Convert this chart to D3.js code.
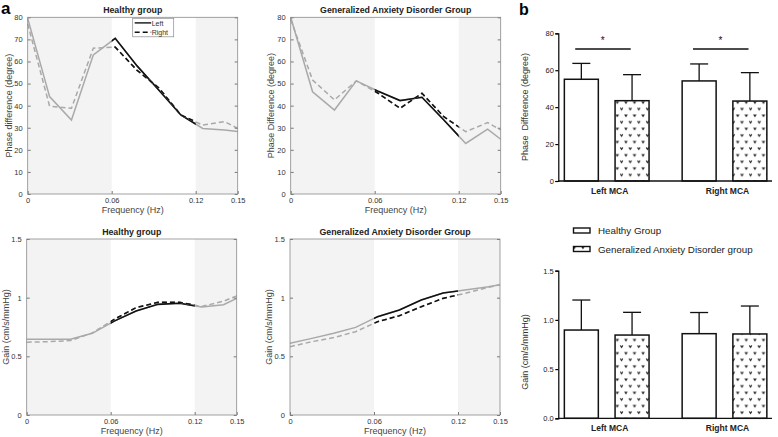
<!DOCTYPE html>
<html>
<head>
<meta charset="utf-8">
<script src="https://cdn.jsdelivr.net/npm/d3@7"></script>
<style>
  body { margin: 0; background: #fff; }
  svg { display: block; font-family: "Liberation Sans", Arial, sans-serif; }
</style>
</head>
<body>
<svg id="chart" width="778" height="437"></svg>
<script>
// frequency bins (Hz)
var freq = [0, 0.015625, 0.03125, 0.046875, 0.0625, 0.078125, 0.09375, 0.109375, 0.125, 0.140625, 0.15];
var freqTicks = [0, 0.06, 0.12, 0.15];

// phase difference (degree)
var hcPhaseLeft   = [79.5, 44.1, 33.5, 63.0, 70.5, 58.0, 47.0, 35.8, 29.7, 29.0, 28.3];
var hcPhaseRight  = [77.0, 39.8, 38.8, 66.0, 66.5, 56.0, 48.0, 35.8, 31.2, 32.8, 29.7];
var gadPhaseLeft  = [80.0, 46.3, 38.0, 51.2, 46.5, 42.3, 43.8, 33.5, 22.9, 29.4, 24.8];
var gadPhaseRight = [79.0, 51.6, 42.6, 51.2, 45.6, 38.8, 45.6, 35.0, 28.2, 32.3, 29.0];
var phaseTicks = [0, 10, 20, 30, 40, 50, 60, 70, 80];

// gain (cm/s/mmHg)
var hcGainLeft   = [0.645, 0.645, 0.645, 0.696, 0.800, 0.886, 0.943, 0.952, 0.920, 0.940, 0.994];
var hcGainRight  = [0.620, 0.625, 0.634, 0.700, 0.815, 0.915, 0.960, 0.960, 0.925, 0.970, 1.015];
var gadGainLeft  = [0.611, 0.653, 0.696, 0.747, 0.838, 0.895, 0.980, 1.040, 1.065, 1.090, 1.110];
var gadGainRight = [0.582, 0.625, 0.660, 0.710, 0.795, 0.846, 0.923, 0.994, 1.037, 1.085, 1.110];
var gainTicks = [0, 0.5, 1, 1.5];

// bar chart (panel b)
var arteries = ["Left MCA", "Right MCA"];
var groups = ["Healthy Group", "Generalized Anxiety Disorder group"];
var barPhaseMean = [[55.1, 43.5], [54.2, 43.3]];
var barPhaseSD   = [[8.6, 14.1], [9.2, 15.4]];
var barGainMean  = [[0.897, 0.846], [0.860, 0.857]];
var barGainSD    = [[0.305, 0.231], [0.215, 0.284]];
var barPhaseTicks = [0, 20, 40, 60, 80];
var barGainTicks  = [0, 0.5, 1.0, 1.5];

var svg = d3.select("#chart");
var defs = svg.append("defs");

// "v" pattern for the anxiety group bars
var pat = defs.append("pattern").attr("id", "vpat")
    .attr("patternUnits", "userSpaceOnUse")
    .attr("width", 8.6).attr("height", 13.2);
pat.append("rect").attr("width", 8.6).attr("height", 13.2).attr("fill", "#fff");
pat.append("path").attr("d", "M1.2,2.2 L2.4,4.2 L3.6,2.2 M5.5,8.8 L6.7,10.8 L7.9,8.8")
    .attr("fill", "none").attr("stroke", "#222").attr("stroke-width", 1.1);

function linePanel(p) {
    var x = d3.scaleLinear().domain([0, 0.15]).range([p.x0, p.x1]);
    var y = d3.scaleLinear().domain([0, p.ymax]).range([p.y1, p.y0]);
    var g = svg.append("g");

    // shaded low / high frequency bands
    g.append("rect").attr("x", x(0)).attr("y", p.y0)
        .attr("width", x(0.06) - x(0)).attr("height", p.y1 - p.y0).attr("fill", "#f3f3f3");
    g.append("rect").attr("x", x(0.12)).attr("y", p.y0)
        .attr("width", x(0.15) - x(0.12)).attr("height", p.y1 - p.y0).attr("fill", "#f3f3f3");

    var clipId = "clip_" + p.id;
    defs.append("clipPath").attr("id", clipId).append("rect")
        .attr("x", x(0.06)).attr("y", p.y0 - 5)
        .attr("width", x(0.12) - x(0.06)).attr("height", p.y1 - p.y0 + 10);

    var line = d3.line().x(function(d, i) { return x(freq[i]); }).y(function(d) { return y(d); });

    [[p.left, null], [p.right, "5,3"]].forEach(function(s) {
        g.append("path").attr("d", line(s[0])).attr("fill", "none")
            .attr("stroke", "#a9a9a9").attr("stroke-width", 1.5)
            .attr("stroke-dasharray", s[1]);
        g.append("path").attr("d", line(s[0])).attr("fill", "none")
            .attr("clip-path", "url(#" + clipId + ")")
            .attr("stroke", "#111").attr("stroke-width", 1.6)
            .attr("stroke-dasharray", s[1]);
    });

    // inner ticks
    var ax = g.append("g").attr("transform", "translate(" + p.x0 + ",0)")
        .call(d3.axisLeft(y).tickValues(p.yticks).tickSize(-3).tickPadding(5).tickFormat(function(d) { return String(d); }));
    g.append("g").attr("transform", "translate(" + p.x1 + ",0)")
        .call(d3.axisRight(y).tickValues(p.yticks).tickSize(-3).tickFormat(""));
    var bx = g.append("g").attr("transform", "translate(0," + p.y1 + ")")
        .call(d3.axisBottom(x).tickValues(freqTicks).tickSize(-3).tickPadding(3.5).tickFormat(function(d) { return String(d); }));
    [ax, bx].forEach(function(a) {
        a.selectAll("text").attr("font-size", 7.5).attr("fill", "#333")
            .attr("font-family", "Liberation Sans, Arial, sans-serif");
    });
    g.selectAll("g .domain").remove();
    g.selectAll("line").attr("stroke", "#777");

    g.append("rect").attr("x", p.x0).attr("y", p.y0)
        .attr("width", p.x1 - p.x0).attr("height", p.y1 - p.y0)
        .attr("fill", "none").attr("stroke", "#8a8a8a").attr("stroke-width", 0.8);

    g.append("text").attr("x", (p.x0 + p.x1) / 2).attr("y", p.y0 - 4)
        .attr("text-anchor", "middle").attr("font-size", 8.8).attr("font-weight", "bold")
        .attr("fill", "#222").text(p.title);
    g.append("text").attr("x", (p.x0 + p.x1) / 2).attr("y", p.y1 + 18.5)
        .attr("text-anchor", "middle").attr("font-size", 9).attr("fill", "#444")
        .text("Frequency (Hz)");
    g.append("text").attr("transform", "translate(" + p.ylx + "," + ((p.y0 + p.y1) / 2) + ") rotate(-90)")
        .attr("text-anchor", "middle").attr("font-size", 9).attr("fill", "#444")
        .text(p.ylabel);

    if (p.legend) {
        var lg = g.append("g").attr("transform", "translate(" + (x(0.06) + 21) + "," + (p.y0 + 1) + ")");
        lg.append("rect").attr("width", 41).attr("height", 18.5)
            .attr("fill", "#fff").attr("stroke", "#8a8a8a").attr("stroke-width", 0.7);
        [["Left", null], ["Right", "5,3"]].forEach(function(e, i) {
            lg.append("line").attr("x1", 2).attr("x2", 18.5)
                .attr("y1", 4.6 + i * 9.4).attr("y2", 4.6 + i * 9.4)
                .attr("stroke", "#111").attr("stroke-width", 1.4).attr("stroke-dasharray", e[1]);
            lg.append("text").attr("x", 19).attr("y", 7.4 + i * 9.4)
                .attr("font-size", 7).attr("fill", "#333").text(e[0]);
        });
    }
}

linePanel({ id: "p1", x0: 27.7, x1: 237.7, y0: 17.3, y1: 194, ymax: 80, yticks: phaseTicks,
    title: "Healthy group", ylabel: "Phase difference (degree)", ylx: 11.5,
    left: hcPhaseLeft, right: hcPhaseRight, legend: true });
linePanel({ id: "p2", x0: 290.7, x1: 500.7, y0: 17.3, y1: 194, ymax: 80, yticks: phaseTicks,
    title: "Generalized Anxiety Disorder Group", ylabel: "Phase Difference (degree)", ylx: 274,
    left: gadPhaseLeft, right: gadPhaseRight });
linePanel({ id: "p3", x0: 26.7, x1: 236.7, y0: 239, y1: 415, ymax: 1.5, yticks: gainTicks,
    title: "Healthy group", ylabel: "Gain (cm/s/mmHg)", ylx: 8.5,
    left: hcGainLeft, right: hcGainRight });
linePanel({ id: "p4", x0: 290, x1: 500, y0: 239, y1: 415, ymax: 1.5, yticks: gainTicks,
    title: "Generalized Anxiety Disorder Group", ylabel: "Gain (cm/s/mmHg)", ylx: 272,
    left: gadGainLeft, right: gadGainRight });

// panel b bar charts
var xGroup = d3.scalePoint().domain(arteries).range([606.7, 724.5]);
var xSub = d3.scaleBand().domain(groups).range([-42.35, 42.35]).paddingInner(0.33);

function barPanel(b) {
    var y = d3.scaleLinear().domain([0, b.ymax]).range([b.y1, b.y0]);
    var g = svg.append("g");

    var ax = g.append("g").attr("transform", "translate(558.3,0)")
        .call(d3.axisLeft(y).tickValues(b.ticks).tickSize(3).tickPadding(1.5).tickFormat(b.fmt));
    ax.selectAll("text").attr("font-size", 7.5).attr("fill", "#222")
        .attr("font-family", "Liberation Sans, Arial, sans-serif");
    ax.select(".domain").attr("stroke-width", 1.2);
    ax.selectAll("line").attr("stroke-width", 1.2);

    arteries.forEach(function(a, i) {
        groups.forEach(function(gr, j) {
            var m = b.mean[i][j], sd = b.sd[i][j];
            var bx = xGroup(a) + xSub(gr), bw = xSub.bandwidth(), cx = bx + bw / 2;
            g.append("line").attr("x1", cx).attr("x2", cx).attr("y1", y(m)).attr("y2", y(m + sd))
                .attr("stroke", "#111").attr("stroke-width", 1.3);
            g.append("line").attr("x1", cx - 9).attr("x2", cx + 9).attr("y1", y(m + sd)).attr("y2", y(m + sd))
                .attr("stroke", "#111").attr("stroke-width", 1.3);
            g.append("rect").attr("x", bx).attr("y", y(m)).attr("width", bw).attr("height", y(0) - y(m))
                .attr("fill", j == 0 ? "#fff" : "url(#vpat)")
                .attr("stroke", "#111").attr("stroke-width", 1.5);
        });
        g.append("text").attr("x", xGroup(a) + 3).attr("y", b.y1 + 13)
            .attr("text-anchor", "middle").attr("font-size", 8.5).attr("font-weight", "bold")
            .attr("fill", "#222").text(a);
    });

    g.append("line").attr("x1", 558.3).attr("x2", 772).attr("y1", y(0)).attr("y2", y(0))
        .attr("stroke", "#111").attr("stroke-width", 1.3);

    if (b.sig) {
        arteries.forEach(function(a) {
            g.append("line").attr("x1", xGroup(a) - 31.5).attr("x2", xGroup(a) + 24)
                .attr("y1", y(b.sig)).attr("y2", y(b.sig)).attr("stroke", "#111").attr("stroke-width", 1.3);
            g.append("text").attr("x", xGroup(a) - 4).attr("y", y(b.sig) - 5)
                .attr("text-anchor", "middle").attr("font-size", 10).attr("fill", "#111").text("*");
        });
    }

    g.append("text").attr("transform", "translate(528," + b.ylc + ") rotate(-90)")
        .attr("text-anchor", "middle").attr("font-size", 9).attr("fill", "#333")
        .attr("xml:space", "preserve").text(b.ylabel);
}

barPanel({ y0: 33.3, y1: 181, ymax: 80, ticks: barPhaseTicks, fmt: d3.format("d"),
    mean: barPhaseMean, sd: barPhaseSD, sig: 71.5, ylabel: "Phase  Difference (degree)", ylc: 107 });
barPanel({ y0: 270.7, y1: 418.3, ymax: 1.5, ticks: barGainTicks, fmt: d3.format(".1f"),
    mean: barGainMean, sd: barGainSD, ylabel: "Gain (cm/s/mmHg)", ylc: 352 });

// legend for panel b
groups.forEach(function(gr, j) {
    var ly = 228 + j * 18.5;
    svg.append("rect").attr("x", 573.5).attr("y", ly).attr("width", 16.5).attr("height", 5)
        .attr("fill", j == 0 ? "#fff" : "url(#vpat)").attr("stroke", "#111").attr("stroke-width", 1.4);
    svg.append("text").attr("x", 598).attr("y", ly + 6).attr("font-size", 9.8)
        .attr("fill", "#222").text(gr);
});

// panel letters
svg.append("text").attr("x", 1).attr("y", 14).attr("font-size", 17).attr("font-weight", "bold").text("a");
svg.append("text").attr("x", 519).attr("y", 15).attr("font-size", 16).attr("font-weight", "bold").text("b");
</script>
</body>
</html>
